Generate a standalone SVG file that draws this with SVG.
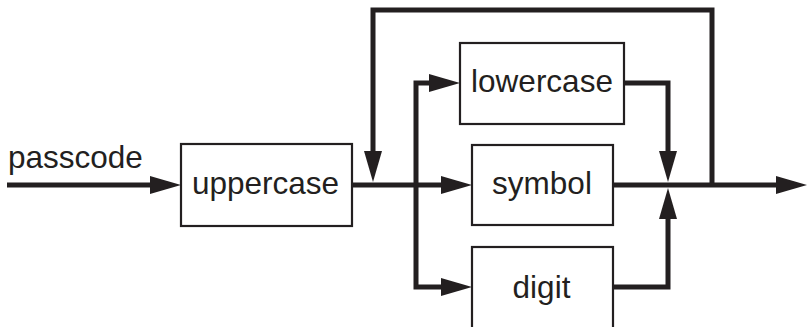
<svg xmlns="http://www.w3.org/2000/svg" width="807" height="327" viewBox="0 0 807 327">
  <style>
    .box { fill: #ffffff; stroke: #231f20; stroke-width: 2.2; }
    .lbl { font-family: "Liberation Sans", Arial, sans-serif; font-size: 31.5px; fill: #231f20; }
    .wire { fill: none; stroke: #231f20; stroke-width: 5; stroke-linejoin: miter; stroke-linecap: butt; }
  </style>
  <defs>
    <marker id="arr" markerUnits="userSpaceOnUse" markerWidth="32" markerHeight="20" viewBox="0 -10 32 20" refX="0" refY="0" orient="auto">
      <path d="M0,-9 L31,0 L0,9 Z" fill="#231f20"/>
    </marker>
  </defs>
  <rect width="807" height="327" fill="#ffffff"/>
  <g id="connectors">
    <path class="wire" d="M7,185 H150" marker-end="url(#arr)"/>
    <path class="wire" d="M352,185 H441" marker-end="url(#arr)"/>
    <path class="wire" d="M712,185 V10 H373 V151" marker-end="url(#arr)"/>
    <path class="wire" d="M416,185 V83 H429" marker-end="url(#arr)"/>
    <path class="wire" d="M416,185 V287 H441" marker-end="url(#arr)"/>
    <path class="wire" d="M624,83 H668 V151" marker-end="url(#arr)"/>
    <path class="wire" d="M613,287 H668 V219" marker-end="url(#arr)"/>
    <path class="wire" d="M613,185 H776" marker-end="url(#arr)"/>
  </g>
  <g id="passcode">
    <text class="lbl" x="8" y="168">passcode</text>
  </g>
  <g id="uppercase">
    <rect class="box" x="181" y="144" width="171" height="82"/>
    <text class="lbl" x="265.5" y="194" text-anchor="middle">uppercase</text>
  </g>
  <g id="lowercase">
    <rect class="box" x="460" y="43" width="164" height="81"/>
    <text class="lbl" x="542" y="92" text-anchor="middle">lowercase</text>
  </g>
  <g id="symbol">
    <rect class="box" x="472" y="145" width="141" height="80"/>
    <text class="lbl" x="542" y="194" text-anchor="middle">symbol</text>
  </g>
  <g id="digit">
    <rect class="box" x="472" y="247" width="141" height="84"/>
    <text class="lbl" x="541.5" y="298" text-anchor="middle">digit</text>
  </g>
</svg>
